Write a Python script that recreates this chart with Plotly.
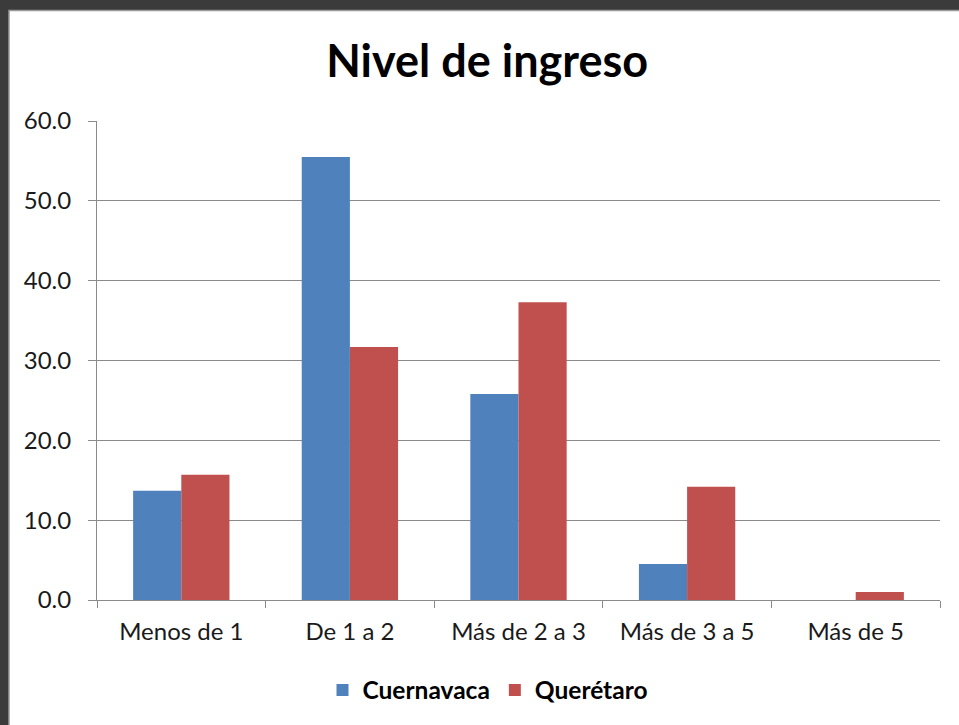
import plotly.graph_objects as go

categories = ["Menos de 1", "De 1 a 2", "Más de 2 a 3", "Más de 3 a 5", "Más de 5"]
cuernavaca = [13.7, 55.5, 25.8, 4.5, 0.0]
queretaro = [15.7, 31.7, 37.3, 14.2, 1.0]
y_ticks = [0, 10, 20, 30, 40, 50, 60]

FONT = "Lato"
W, H = 959, 725
L, R, T, B = 97, 940, 121, 600

def px_x(px):
    return (px - L) / (R - L)

def px_y(py):
    return (B - py) / (B - T)

fig = go.Figure()
fig.add_trace(go.Bar(name="Cuernavaca", x=categories, y=cuernavaca,
                     marker=dict(color="#4f81bd", line=dict(width=0))))
fig.add_trace(go.Bar(name="Querétaro", x=categories, y=queretaro,
                     marker=dict(color="#c0504d", line=dict(width=0))))

fig.update_layout(
    width=W, height=H,
    margin=dict(l=L, r=W - R, t=T, b=H - B, autoexpand=False),
    paper_bgcolor="#3b3b3b",
    plot_bgcolor="white",
    barmode="group",
    bargap=0.4286,
    bargroupgap=0,
    title=dict(text="<b>Nivel de ingreso</b>", x=0.508, xanchor="center",
               y=1 - 61 / H, yanchor="middle",
               font=dict(family=FONT, size=45, color="black")),
    font=dict(family=FONT, size=24, color="black"),
    legend=dict(orientation="h", x=px_x(488), xanchor="center", y=px_y(690), yanchor="middle",
                font=dict(family=FONT, size=24.5, color="black", weight="bold"),
                itemwidth=30, traceorder="normal", bgcolor="rgba(0,0,0,0)"),
    showlegend=True,
    shapes=[dict(type="rect", xref="paper", yref="paper", layer="below",
                 x0=px_x(9), x1=px_x(965), y0=px_y(730), y1=px_y(10.5),
                 fillcolor="white", line=dict(color="#9a9a9a", width=1.5))],
)
fig.update_xaxes(showline=True, linecolor="#8a8a8a", linewidth=1,
                 ticks="outside", tickson="boundaries", ticklen=7, tickcolor="#8a8a8a",
                 ticklabelstandoff=10,
                 tickfont=dict(family=FONT, size=24, color="#1a1a1a"), showgrid=False)
fig.update_yaxes(range=[0, 60], tickvals=y_ticks, tickformat=".1f",
                 showline=True, linecolor="#8a8a8a", linewidth=1,
                 ticks="outside", ticklen=8, tickcolor="#8a8a8a", ticklabelstandoff=12,
                 showgrid=True, gridcolor="#8a8a8a", gridwidth=1, zeroline=False,
                 tickfont=dict(family=FONT, size=24, color="#1a1a1a"))

fig.write_html("out.html", config={"displayModeBar": False},
               post_script="document.body.style.margin='0';document.body.style.overflow='hidden';")
